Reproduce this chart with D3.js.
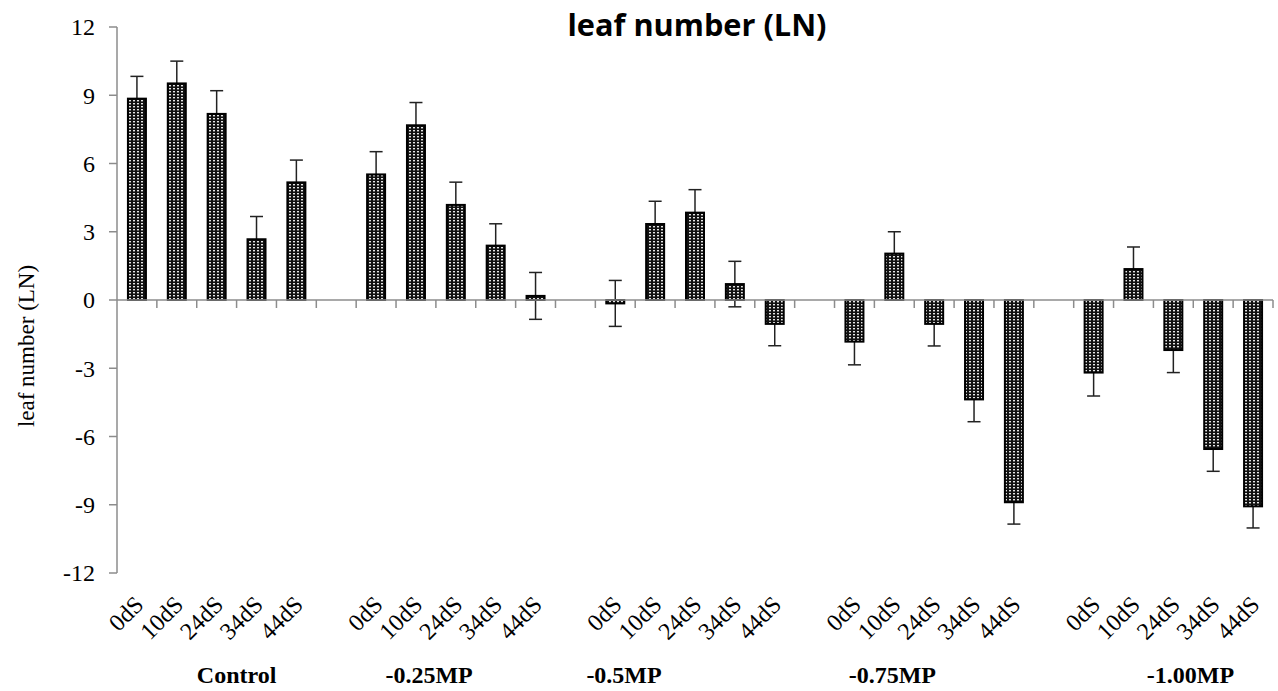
<!DOCTYPE html>
<html>
<head>
<meta charset="utf-8">
<script src="https://cdn.jsdelivr.net/npm/d3@7"></script>
<style>
  body { margin: 0; background: #fff; }
  svg { display: block; }
  .serif { font-family: "Liberation Serif", "Times New Roman", Tinos, "DejaVu Serif", serif; }
</style>
</head>
<body>
<svg id="chart" width="1278" height="691"></svg>
<script>
// data
const groups = ["Control", "-0.25MP", "-0.5MP", "-0.75MP", "-1.00MP"];
const stages = ["0dS", "10dS", "24dS", "34dS", "44dS"];

const controlVals = [8.85, 9.52, 8.18, 2.67, 5.17];
const mp025Vals = [5.52, 7.68, 4.18, 2.39, 0.18];
const mp05Vals = [-0.15, 3.34, 3.84, 0.70, -1.05];
const mp075Vals = [-1.83, 2.04, -1.05, -4.37, -8.89];
const mp100Vals = [-3.19, 1.36, -2.20, -6.55, -9.07];

const controlErr = [0.98, 0.98, 1.02, 1.00, 0.98];
const mp025Err = [1.00, 1.00, 1.00, 0.96, 1.03];
const mp05Err = [1.01, 1.00, 1.01, 1.00, 0.96];
const mp075Err = [1.02, 0.96, 0.97, 0.98, 0.96];
const mp100Err = [1.03, 0.97, 0.99, 0.98, 0.95];

const yTicks = [-12, -9, -6, -3, 0, 3, 6, 9, 12];

const allVals = [controlVals, mp025Vals, mp05Vals, mp075Vals, mp100Vals];
const allErr = [controlErr, mp025Err, mp05Err, mp075Err, mp100Err];

// group label placement (in slot units, the labels are not centred on the groups)
const groupLabelSlot = [3.0, 7.83, 12.72, 19.45, 26.93];

const bars = [];
allVals.forEach((vals, g) => {
    vals.forEach((v, s) => {
        bars.push({ slot: g * 6 + s, value: v, err: allErr[g][s], stage: stages[s] });
    });
});

const svg = d3.select("#chart");
const plotLeft = 117, plotRight = 1273, plotTop = 27, plotBottom = 573;
const nSlots = 29;

const x = d3.scaleBand()
    .domain(d3.range(nSlots))
    .range([plotLeft, plotRight])
    .padding(0);

const y = d3.scaleLinear()
    .domain([-12, 12])
    .range([plotBottom, plotTop]);

const barW = 18;
const axisColor = "#8c8c8c";

// pattern for the bars
const defs = svg.append("defs");
const pat = defs.append("pattern")
    .attr("id", "dots")
    .attr("patternUnits", "userSpaceOnUse")
    .attr("width", 4)
    .attr("height", 3);
pat.append("rect").attr("width", 4).attr("height", 3).attr("fill", "#111");
pat.append("rect").attr("x", 1).attr("y", 1).attr("width", 2).attr("height", 1.4).attr("fill", "#e6e6e6");

// title
svg.append("text")
    .attr("x", 697)
    .attr("y", 36)
    .attr("text-anchor", "middle")
    .attr("textLength", 259)
    .attr("lengthAdjust", "spacingAndGlyphs")
    .style("font-family", "'Open Sans', sans-serif")
    .style("font-weight", "700")
    .style("font-size", "30px")
    .text("leaf number (LN)");

// y axis
svg.append("line")
    .attr("x1", plotLeft).attr("x2", plotLeft)
    .attr("y1", y(12)).attr("y2", y(-12))
    .attr("stroke", axisColor).attr("stroke-width", 1.5);

svg.append("g")
    .selectAll("line")
    .data(yTicks)
    .enter()
    .append("line")
    .attr("x1", plotLeft - 8).attr("x2", plotLeft)
    .attr("y1", d => y(d)).attr("y2", d => y(d))
    .attr("stroke", axisColor).attr("stroke-width", 1.5);

svg.append("g")
    .selectAll("text")
    .data(yTicks)
    .enter()
    .append("text")
    .attr("class", "serif")
    .attr("x", 95)
    .attr("y", d => y(d))
    .attr("dy", "0.35em")
    .attr("text-anchor", "end")
    .style("font-size", "24px")
    .text(d => d);

svg.append("text")
    .attr("class", "serif")
    .attr("transform", "translate(34,346) rotate(-90)")
    .attr("text-anchor", "middle")
    .style("font-size", "23px")
    .text("leaf number (LN)");

// error bars (drawn before the bars)
const eb = svg.append("g")
    .selectAll("g")
    .data(bars)
    .enter()
    .append("g")
    .attr("stroke", "#222")
    .attr("stroke-width", 1.5);

eb.append("line")
    .attr("x1", d => x(d.slot) + x.bandwidth() / 2)
    .attr("x2", d => x(d.slot) + x.bandwidth() / 2)
    .attr("y1", d => y(d.value - d.err))
    .attr("y2", d => y(d.value + d.err));

eb.append("line")
    .attr("x1", d => x(d.slot) + x.bandwidth() / 2 - 6.5)
    .attr("x2", d => x(d.slot) + x.bandwidth() / 2 + 6.5)
    .attr("y1", d => y(d.value + d.err))
    .attr("y2", d => y(d.value + d.err));

eb.append("line")
    .attr("x1", d => x(d.slot) + x.bandwidth() / 2 - 6.5)
    .attr("x2", d => x(d.slot) + x.bandwidth() / 2 + 6.5)
    .attr("y1", d => y(d.value - d.err))
    .attr("y2", d => y(d.value - d.err));

// bars
svg.append("g")
    .selectAll("rect")
    .data(bars)
    .enter()
    .append("rect")
    .attr("x", d => x(d.slot) + x.bandwidth() / 2 - barW / 2)
    .attr("width", barW)
    .attr("y", d => y(Math.max(0, d.value)))
    .attr("height", d => Math.abs(y(d.value) - y(0)))
    .attr("fill", "url(#dots)")
    .attr("stroke", "#000")
    .attr("stroke-width", 2);

// x axis at zero
svg.append("line")
    .attr("x1", plotLeft).attr("x2", plotRight)
    .attr("y1", y(0)).attr("y2", y(0))
    .attr("stroke", axisColor).attr("stroke-width", 1.5);

svg.append("g")
    .selectAll("line")
    .data(d3.range(1, nSlots + 1))
    .enter()
    .append("line")
    .attr("x1", d => plotLeft + d * x.step())
    .attr("x2", d => plotLeft + d * x.step())
    .attr("y1", y(0)).attr("y2", y(0) + 8)
    .attr("stroke", axisColor).attr("stroke-width", 1.5);

// category labels
svg.append("g")
    .selectAll("text")
    .data(bars)
    .enter()
    .append("text")
    .attr("class", "serif")
    .attr("transform", d => `translate(${x(d.slot) + x.bandwidth() / 2 + 8},606) rotate(-45)`)
    .attr("text-anchor", "end")
    .style("font-size", "24px")
    .text(d => d.stage);

// group labels
svg.append("g")
    .selectAll("text")
    .data(groups)
    .enter()
    .append("text")
    .attr("class", "serif")
    .attr("x", (d, i) => plotLeft + groupLabelSlot[i] * x.step())
    .attr("y", 683)
    .attr("text-anchor", "middle")
    .style("font-weight", "700")
    .style("font-size", "24px")
    .text(d => d);
</script>
</body>
</html>
